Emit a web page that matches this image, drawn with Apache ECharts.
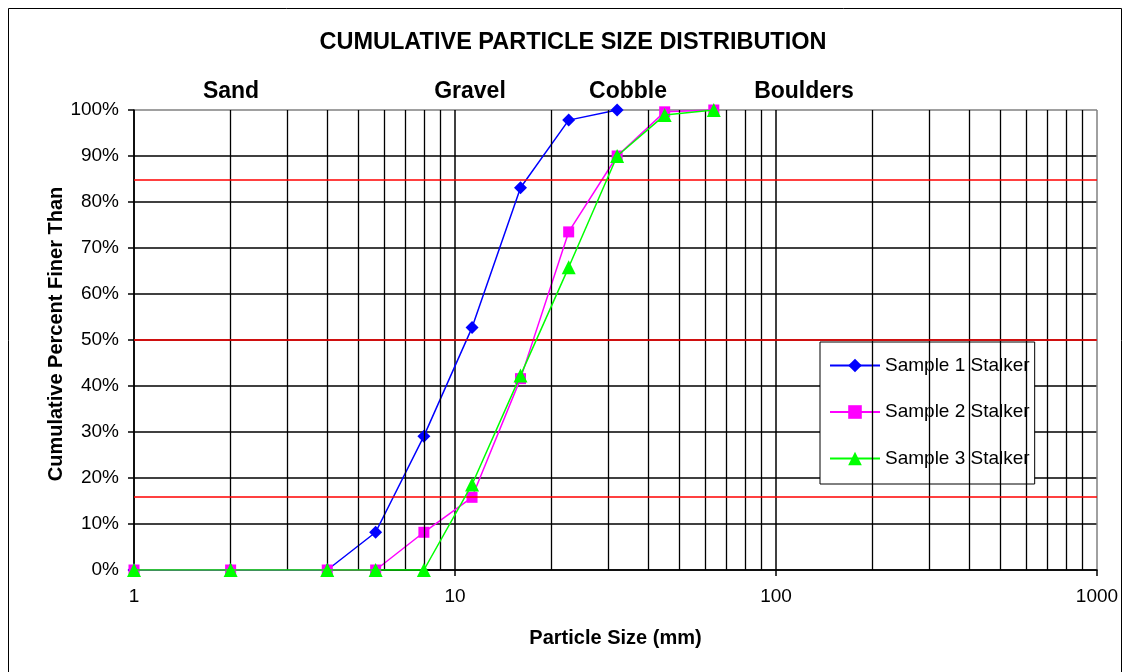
<!DOCTYPE html>
<html>
<head>
<meta charset="utf-8">
<script src="https://cdn.jsdelivr.net/npm/echarts@6/dist/echarts.min.js"></script>
<style>
html,body{margin:0;padding:0;background:#fff;}
#chart{width:1130px;height:672px;}
</style>
</head>
<body>
<div id="chart"></div>
<script>
// ---- data ----
var sizes1 = [1, 2, 4, 5.66, 8, 11.3, 16, 22.6, 32];
var sample1 = [0, 0, 0, 8.2, 29.1, 52.7, 83.1, 97.8, 100];
var sizes2 = [1, 2, 4, 5.66, 8, 11.3, 16, 22.6, 32, 45, 64];
var sample2 = [0, 0, 0, 0, 8.2, 15.8, 41.6, 73.5, 90, 99.6, 100];
var sizes3 = [1, 2, 4, 5.66, 8, 11.3, 16, 22.6, 32, 45, 64];
var sample3 = [0, 0, 0, 0, 0, 18.6, 42.3, 65.8, 90, 98.9, 100];
var seriesNames = ['Sample 1 Stalker', 'Sample 2 Stalker', 'Sample 3 Stalker'];
var refLevels = [84.8, 50, 15.9];          // red reference lines (%)
var minorMultipliers = [2, 3, 4, 5, 6, 7, 8, 9];
var decades = [1, 10, 100];
var zoneLabels = ['Sand', 'Gravel', 'Cobble', 'Boulders'];
var titleText = 'CUMULATIVE PARTICLE SIZE DISTRIBUTION';
var xAxisTitle = 'Particle Size (mm)';
var yAxisTitle = 'Cumulative Percent Finer Than';

function pairs(xs, ys) { return xs.map(function (x, i) { return [x, ys[i]]; }); }

var minorLines = [];
decades.forEach(function (d) { minorMultipliers.forEach(function (m) { minorLines.push({ xAxis: d * m }); }); });

var FONT = 'Liberation Sans, Arial, sans-serif';
var chart = echarts.init(document.getElementById('chart'), null, { renderer: 'canvas' });

var zoneX = [231, 470, 628, 804];

var option = {
  animation: false,
  backgroundColor: '#fff',
  textStyle: { fontFamily: FONT },
  grid: { left: 134, right: 33, top: 110, bottom: 102, show: false },
  graphic: [
    { type: 'rect', shape: { x: 8.5, y: 8.5, width: 1113, height: 700 }, style: { fill: null, stroke: '#000', lineWidth: 1 }, silent: true, z: 0 },
    { type: 'text', x: 573, y: 43, style: { text: titleText, font: 'bold 23.5px ' + FONT, fill: '#000', textAlign: 'center', textVerticalAlign: 'middle' } },
    { type: 'text', x: 56, y: 334, rotation: Math.PI / 2, style: { text: yAxisTitle, font: 'bold 20px ' + FONT, fill: '#000', textAlign: 'center', textVerticalAlign: 'middle' } }
  ].concat(zoneLabels.map(function (t, i) {
    return { type: 'text', x: zoneX[i], y: 92, style: { text: t, font: 'bold 23px ' + FONT, fill: '#000', textAlign: 'center', textVerticalAlign: 'middle' } };
  })),
  legend: {
    orient: 'vertical',
    left: 820, top: 342,
    padding: [14, 5, 16, 9],
    itemWidth: 50, itemHeight: 17,
    itemGap: 27.5,
    backgroundColor: '#fff',
    borderColor: '#000', borderWidth: 1,
    textStyle: { fontFamily: FONT, fontSize: 19, color: '#000' },
    data: seriesNames
  },
  xAxis: {
    type: 'log', logBase: 10, min: 1, max: 1000,
    name: xAxisTitle, nameLocation: 'middle', nameGap: 58,
    nameTextStyle: { fontFamily: FONT, fontSize: 20, fontWeight: 'bold', color: '#000' },
    axisLine: { show: true, lineStyle: { color: '#000', width: 1.5 } },
    axisTick: { show: true, length: 6, lineStyle: { color: '#000', width: 1.5 } },
    axisLabel: { fontFamily: FONT, fontSize: 19, color: '#000', margin: 17,
      formatter: function (v) { return String(Math.round(v)); } },
    splitLine: { show: true, lineStyle: { color: ['#000', '#000', '#000', '#808080'], width: 1.5 } },
    minorTick: { show: false }, minorSplitLine: { show: false }
  },
  yAxis: {
    type: 'value', min: 0, max: 100, interval: 10,
    axisLine: { show: true, lineStyle: { color: '#000', width: 1.5 } },
    axisTick: { show: true, length: 6, lineStyle: { color: '#000', width: 1.5 } },
    axisLabel: { fontFamily: FONT, fontSize: 19, color: '#000', margin: 15, formatter: '{value}%' },
    splitLine: { show: true, lineStyle: { color: ['#000', '#000', '#000', '#000', '#000', '#000', '#000', '#000', '#000', '#000', '#808080'], width: 1.5 } }
  },
  series: [
    {
      name: 'minor-grid', type: 'line', data: [], silent: true, z: 1,
      markLine: { silent: true, symbol: ['none', 'none'], label: { show: false },
        lineStyle: { color: '#000', width: 1.3, type: 'solid' }, data: minorLines }
    },
    {
      name: 'ref-lines', type: 'line', data: [], silent: true, z: 1,
      markLine: { silent: true, symbol: ['none', 'none'], label: { show: false },
        lineStyle: { color: '#ff0000', width: 1.5, type: 'solid' },
        data: refLevels.map(function (v) { return { yAxis: v }; }) }
    },
    {
      name: seriesNames[0], type: 'line', data: pairs(sizes1, sample1), z: 3,
      symbol: 'diamond', symbolSize: 13,
      lineStyle: { color: '#0000ff', width: 1.5 }, itemStyle: { color: '#0000ff' }, color: '#0000ff'
    },
    {
      name: seriesNames[1], type: 'line', data: pairs(sizes2, sample2), z: 4,
      symbol: 'rect', symbolSize: 11,
      lineStyle: { color: '#ff00ff', width: 1.5 }, itemStyle: { color: '#ff00ff' }, color: '#ff00ff'
    },
    {
      name: seriesNames[2], type: 'line', data: pairs(sizes3, sample3), z: 5,
      symbol: 'triangle', symbolSize: 14,
      lineStyle: { color: '#00ff00', width: 1.5 }, itemStyle: { color: '#00ff00' }, color: '#00ff00'
    }
  ]
};
chart.setOption(option);
</script>
</body>
</html>
